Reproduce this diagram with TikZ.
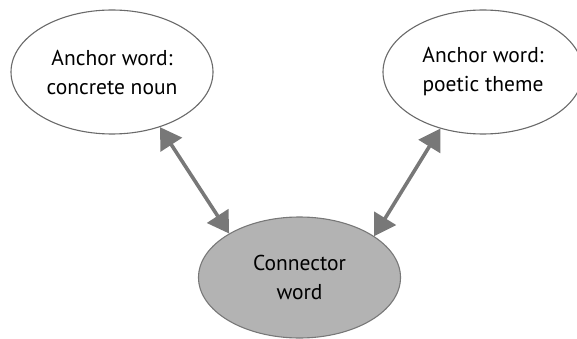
\documentclass[tikz,border=0pt]{standalone}
\usepackage{fontspec}
\setmainfont{PT Sans}
\usetikzlibrary{arrows.meta,shapes.geometric}
\definecolor{rimgray}{HTML}{6A6A6A}
\definecolor{linkgray}{HTML}{787878}
\definecolor{hubgray}{HTML}{B3B3B3}
\tikzset{
  wordnode/.style={ellipse,draw=rimgray,line width=1.1pt,fill=white,
    minimum width=202pt,minimum height=124pt,inner sep=0pt,
    align=center,font=\fontsize{21.5}{29}\selectfont},
  hubnode/.style={wordnode,fill=hubgray,draw=linkgray,minimum height=121pt},
  linkarrow/.style={draw=linkgray,line width=3.6pt,
    {Triangle[length=21pt,width=25pt]}-{Triangle[length=21pt,width=25pt]}}
}
\begin{document}
\begin{tikzpicture}[x=1pt,y=-1pt]
        \useasboundingbox (0,0) rectangle (577,339);
        %% anchor words
        \node[wordnode] (concrete) at (112,72) {Anchor word:\\concrete noun};
        \node[wordnode,minimum width=200pt] (theme) at (483,72) {Anchor word:\\poetic theme};
        %% connector word
        \node[hubnode] (connector) at (299.5,277.5) {Connector\\word};
        %% links
        \draw[linkarrow] (concrete.-49) -- (connector.148);
        \draw[linkarrow] (theme.-127) -- (connector.29);
    \end{tikzpicture}
\end{document}
